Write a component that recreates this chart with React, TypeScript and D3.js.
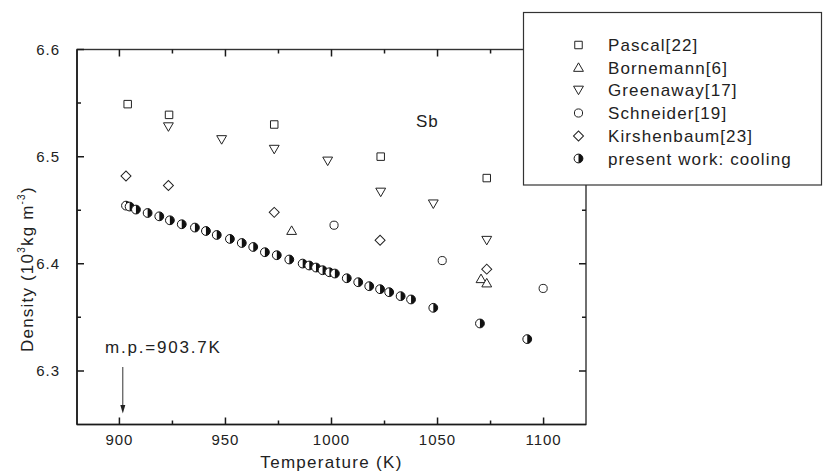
import React from "react";
import * as d3 from "d3";

// ---- data ----
const pascalT = [903.9, 923.4, 973.0, 1023.2, 1073.2];
const pascalD = [6.549, 6.539, 6.530, 6.500, 6.480];

const bornemannT = [981.2, 1070.5, 1073.2];
const bornemannD = [6.431, 6.386, 6.382];

const greenawayT = [923.1, 948.2, 973.0, 998.2, 1023.2, 1048.0, 1073.2];
const greenawayD = [6.528, 6.516, 6.507, 6.496, 6.467, 6.456, 6.422];

const schneiderT = [1001.2, 1052.2, 1099.8];
const schneiderD = [6.436, 6.403, 6.377];

const kirshT = [903.1, 923.1, 973.0, 1022.9, 1073.2];
const kirshD = [6.482, 6.473, 6.448, 6.422, 6.395];

const coolT = [903.1, 904.8, 907.8, 913.3, 918.8, 923.8, 929.4, 935.6, 940.8, 945.9,
  952.1, 957.7, 963.1, 968.6, 974.2, 980.1, 986.4, 989.5, 992.7, 995.8,
  999.0, 1001.6, 1007.2, 1012.6, 1017.8, 1022.9, 1027.2, 1032.6, 1037.5,
  1048.0, 1070.0, 1092.3];
const coolD = [6.4543, 6.4534, 6.4506, 6.4474, 6.4443, 6.4406, 6.4369, 6.4338, 6.4306, 6.4269,
  6.4232, 6.4194, 6.4157, 6.4108, 6.4080, 6.4040, 6.4002, 6.3984, 6.3965, 6.3940,
  6.3921, 6.3909, 6.3865, 6.3828, 6.3791, 6.3763, 6.3735, 6.3698, 6.3667,
  6.3589, 6.3443, 6.3297];

const xMajor = [900, 950, 1000, 1050, 1100];
const xMinor = [925, 975, 1025, 1075];
const yMajor = [6.3, 6.4, 6.5, 6.6];
const yMinor = [6.35, 6.45, 6.55];
const yTickLabels = ["6.3", "6.4", "6.5", "6.6"];

const legendLabels = ["Pascal[22]", "Bornemann[6]", "Greenaway[17]", "Schneider[19]", "Kirshenbaum[23]", "present work: cooling"];
const MP_T = 901.6;

const FONT = "'Liberation Sans', Arial, Helvetica, sans-serif";
const INK = "#222";

const x = d3.scaleLinear().domain([880, 1120]).range([77, 586]);
const y = d3.scaleLinear().domain([6.25, 6.6]).range([424.5, 49.5]);

const sq = d3.symbol().type(d3.symbolSquare).size(56)()!;
const tri = d3.symbol().type(d3.symbolTriangle).size(42)()!;
const dia = d3.symbol().type(d3.symbolSquare).size(50)()!;
const circ = d3.symbol().type(d3.symbolCircle).size(52)()!;
const halfArc = d3.arc()({ innerRadius: 0, outerRadius: 4.4, startAngle: 0, endAngle: Math.PI } as any)!;

type Kind = "sq" | "up" | "down" | "circ" | "dia" | "half";

function Marker({ kind, cx, cy }: { kind: Kind; cx: number; cy: number }) {
  const common = { fill: "white", stroke: INK, strokeWidth: 1 };
  switch (kind) {
    case "sq":
      return <path d={sq} transform={`translate(${cx},${cy})`} {...common} />;
    case "up":
      return <path d={tri} transform={`translate(${cx},${cy + 1})`} {...common} />;
    case "down":
      return <path d={tri} transform={`translate(${cx},${cy - 1}) rotate(180)`} {...common} />;
    case "circ":
      return <path d={circ} transform={`translate(${cx},${cy})`} {...common} />;
    case "dia":
      return <path d={dia} transform={`translate(${cx},${cy}) rotate(45)`} {...common} />;
    case "half":
      return (
        <g transform={`translate(${cx},${cy})`}>
          <circle r={4.4} fill="white" stroke="#111" strokeWidth={1} />
          <path d={halfArc} fill="#111" />
        </g>
      );
  }
}

function Series({ T, D, kind }: { T: number[]; D: number[]; kind: Kind }) {
  return (
    <g>
      {T.map((t, i) => (
        <Marker key={i} kind={kind} cx={x(t)} cy={y(D[i])} />
      ))}
    </g>
  );
}

export default function App() {
  const [x0, x1] = x.range();
  const [yb, yt] = y.range();
  const major = 7;
  const minor = 4;
  let tp = "";
  xMajor.forEach((t) => { tp += `M${x(t)},${yb}v${-major}M${x(t)},${yt}v${major}`; });
  xMinor.forEach((t) => { tp += `M${x(t)},${yb}v${-minor}M${x(t)},${yt}v${minor}`; });
  yMajor.forEach((v) => { tp += `M${x0},${y(v)}h${major}M${x1},${y(v)}h${-major}`; });
  yMinor.forEach((v) => { tp += `M${x0},${y(v)}h${minor}M${x1},${y(v)}h${-minor}`; });
  const legendKinds: Kind[] = ["sq", "up", "down", "circ", "dia", "half"];
  const legendRows = [45, 67.5, 90, 113, 136, 158.5];
  return (
    <svg width={825} height={472} style={{ position: "absolute", left: 0, top: 0, background: "white" }}>
      <rect x={x0} y={yt} width={x1 - x0} height={yb - yt} fill="none" stroke="#333" strokeWidth={1.4} />
      <line x1={x0} y1={yb} x2={x1} y2={yb} stroke="#1a1a1a" strokeWidth={1.6} />
      <line x1={x0} y1={yb} x2={x0} y2={yt} stroke="#1a1a1a" strokeWidth={1.6} />
      <path d={tp} fill="none" stroke="#1a1a1a" strokeWidth={1.5} />
      {/* tick labels */}
      <g fontFamily={FONT} fontSize={15} fill={INK} letterSpacing={1}>
        {xMajor.map((t) => (
          <text key={"xl" + t} x={x(t)} y={445} textAnchor="middle">{t}</text>
        ))}
        {yMajor.map((v, i) => (
          <text key={"yl" + v} x={60} y={y(v) + 5} textAnchor="end">{yTickLabels[i]}</text>
        ))}
      </g>
      {/* axis titles */}
      <text x={(x0 + x1) / 2} y={468} textAnchor="middle" fontFamily={FONT} fontSize={17} fill={INK} letterSpacing={1.3}>
        Temperature (K)
      </text>
      <text transform="translate(33,352) rotate(-90)" fontFamily={FONT} fontSize={17} fill={INK} letterSpacing={1.2}>
        Density (10<tspan fontSize={10} dy={-8}>3</tspan><tspan dy={8}>kg m</tspan><tspan fontSize={10} dy={-8}>-3</tspan><tspan dy={8}>)</tspan>
      </text>
      {/* annotations */}
      <text x={416} y={127} fontFamily={FONT} fontSize={17} fill={INK} letterSpacing={1}>Sb</text>
      <text x={105} y={353} fontFamily={FONT} fontSize={17} fill={INK} letterSpacing={1.8}>m.p.=903.7K</text>
      <line x1={x(MP_T)} x2={x(MP_T)} y1={367} y2={406} stroke="#333" strokeWidth={1} />
      <path d={`M${x(MP_T) - 2.5},${405} L${x(MP_T) + 2.5},${405} L${x(MP_T)},${413.5} Z`} fill="#222" />
      {/* data */}
      <Series T={pascalT} D={pascalD} kind="sq" />
      <Series T={greenawayT} D={greenawayD} kind="down" />
      <Series T={kirshT} D={kirshD} kind="dia" />
      <Series T={bornemannT} D={bornemannD} kind="up" />
      <Series T={schneiderT} D={schneiderD} kind="circ" />
      <Series T={coolT} D={coolD} kind="half" />
      {/* legend */}
      <rect x={523.5} y={12.5} width={298} height={172.5} fill="white" stroke="#333" strokeWidth={1.2} />
      {legendLabels.map((lab, i) => (
        <g key={lab}>
          <Marker kind={legendKinds[i]} cx={578.5} cy={legendRows[i]} />
          <text x={608} y={legendRows[i] + 6} fontFamily={FONT} fontSize={17} fill={INK} letterSpacing={1.1}>{lab}</text>
        </g>
      ))}
    </svg>
  );
}
